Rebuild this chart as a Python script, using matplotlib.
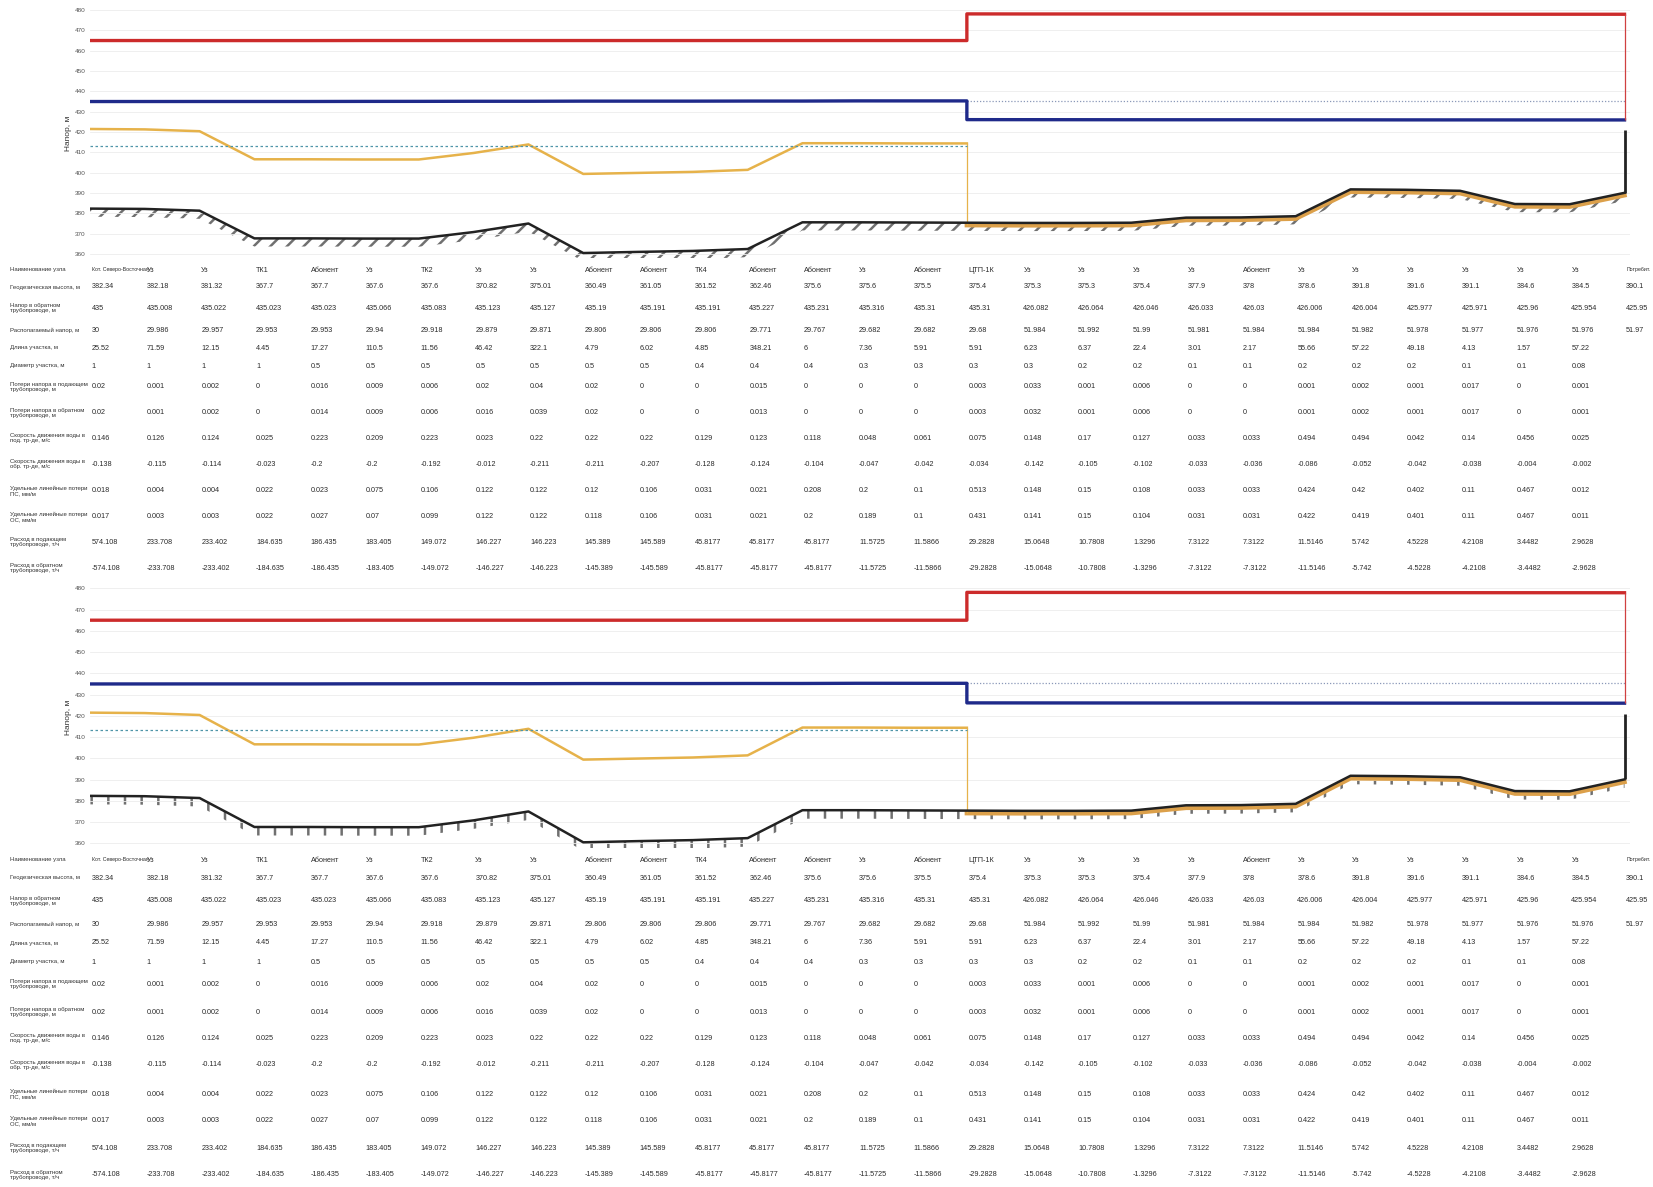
import matplotlib
matplotlib.use('Agg')
import matplotlib.pyplot as plt
import matplotlib.transforms as mtransforms

plt.rcParams['font.family'] = ['Liberation Sans', 'DejaVu Sans']
plt.rcParams['hatch.linewidth'] = 1.8

W, H = 1653, 1187

# ---------------- data ----------------
nodes = ["Кот. Северо-Восточная", "Уз", "Уз", "ТК1", "Абонент", "Уз", "ТК2", "Уз", "Уз",
         "Абонент", "Абонент", "ТК4", "Абонент", "Абонент", "Уз", "Абонент", "ЦТП-1К",
         "Уз", "Уз", "Уз", "Уз", "Абонент", "Уз", "Уз", "Уз", "Уз", "Уз", "Уз", "Потребит."]

# geodetic height of nodes, m
geo = [382.34, 382.18, 381.32, 367.7, 367.7, 367.6, 367.6, 370.82, 375.01, 360.49,
       361.05, 361.52, 362.46, 375.6, 375.6, 375.5, 375.4, 375.3, 375.3, 375.4,
       377.9, 378.0, 378.6, 391.8, 391.6, 391.1, 384.6, 384.5, 390.1]

# zone 1 (nodes 0..16, before ЦТП) and zone 2 (nodes 16..28)
zone1 = list(range(0, 17))
zone2 = list(range(16, 29))

ret1 = [435.0, 435.008, 435.022, 435.023, 435.023, 435.066, 435.083, 435.123, 435.127,
        435.19, 435.191, 435.191, 435.227, 435.231, 435.316, 435.31, 435.31]
disp1 = [30.0, 29.986, 29.957, 29.953, 29.953, 29.94, 29.918, 29.879, 29.871,
         29.806, 29.806, 29.806, 29.771, 29.767, 29.682, 29.682, 29.68]
ret2 = [426.1, 426.082, 426.064, 426.046, 426.033, 426.03, 426.006, 426.004,
        425.977, 425.971, 425.96, 425.954, 425.95]
disp2 = [52.0, 51.984, 51.992, 51.99, 51.981, 51.984, 51.984, 51.982,
         51.978, 51.977, 51.976, 51.976, 51.97]

# boiling line
boil1 = [421.5, 421.3, 420.4, 406.6, 406.6, 406.5, 406.5, 409.7, 413.9, 399.4,
         399.9, 400.4, 401.4, 414.5, 414.5, 414.4, 414.4]
boil2 = [374.2, 374.1, 374.1, 374.2, 376.7, 376.8, 377.4, 390.6, 390.4, 389.9,
         383.4, 383.3, 388.9]

static1 = 413.3
static2 = 435.4
bld_top = 421.0

length = [25.52, 71.59, 12.15, 4.45, 17.27, 110.5, 11.56, 46.42, 322.1, 4.79, 6.02,
          4.85, 348.21, 6, 7.36, 5.91, 5.91, 6.23, 6.37, 22.4, 3.01, 2.17, 55.66,
          57.22, 49.18, 4.13, 1.57, 57.22, None]
diam = [1, 1, 1, 1, 0.5, 0.5, 0.5, 0.5, 0.5, 0.5, 0.5, 0.4, 0.4, 0.4, 0.3, 0.3, 0.3,
        0.3, 0.2, 0.2, 0.1, 0.1, 0.2, 0.2, 0.2, 0.1, 0.1, 0.08, None]
loss_s = [0.02, 0.001, 0.002, 0, 0.016, 0.009, 0.006, 0.02, 0.04, 0.02, 0, 0, 0.015,
          0, 0, 0, 0.003, 0.033, 0.001, 0.006, 0, 0, 0.001, 0.002, 0.001, 0.017, 0,
          0.001, None]
loss_r = [0.02, 0.001, 0.002, 0, 0.014, 0.009, 0.006, 0.016, 0.039, 0.02, 0, 0, 0.013,
          0, 0, 0, 0.003, 0.032, 0.001, 0.006, 0, 0, 0.001, 0.002, 0.001, 0.017, 0,
          0.001, None]
vel_s = [0.146, 0.126, 0.124, 0.025, 0.223, 0.209, 0.223, 0.023, 0.22, 0.22, 0.22,
         0.129, 0.123, 0.118, 0.048, 0.061, 0.075, 0.148, 0.17, 0.127, 0.033, 0.033,
         0.494, 0.494, 0.042, 0.14, 0.456, 0.025, None]
vel_r = [-0.138, -0.115, -0.114, -0.023, -0.2, -0.2, -0.192, -0.012, -0.211, -0.211,
         -0.207, -0.128, -0.124, -0.104, -0.047, -0.042, -0.034, -0.142, -0.105,
         -0.102, -0.033, -0.036, -0.086, -0.052, -0.042, -0.038, -0.004, -0.002, None]
spec_s = [0.018, 0.004, 0.004, 0.022, 0.023, 0.075, 0.106, 0.122, 0.122, 0.12, 0.106,
          0.031, 0.021, 0.208, 0.2, 0.1, 0.513, 0.148, 0.15, 0.108, 0.033, 0.033,
          0.424, 0.42, 0.402, 0.11, 0.467, 0.012, None]
spec_r = [0.017, 0.003, 0.003, 0.022, 0.027, 0.07, 0.099, 0.122, 0.122, 0.118, 0.106,
          0.031, 0.021, 0.2, 0.189, 0.1, 0.431, 0.141, 0.15, 0.104, 0.031, 0.031,
          0.422, 0.419, 0.401, 0.11, 0.467, 0.011, None]
flow_s = [574.108, 233.708, 233.4022, 184.6347, 186.4347, 183.4047, 149.0722,
          146.2272, 146.2227, 145.3887, 145.5887, 45.8177, 45.8177, 45.8177, 11.5725,
          11.5866, 29.2828, 15.0648, 10.7808, 1.3296, 7.3122, 7.3122, 11.5146, 5.742,
          4.5228, 4.2108, 3.4482, 2.9628, None]
flow_r = [-574.108, -233.708, -233.4022, -184.6347, -186.4347, -183.4047, -149.0722,
          -146.2272, -146.2227, -145.3887, -145.5887, -45.8177, -45.8177, -45.8177,
          -11.5725, -11.5866, -29.2828, -15.0648, -10.7808, -1.3296, -7.3122, -7.3122,
          -11.5146, -5.742, -4.5228, -4.2108, -3.4482, -2.9628, None]

row_labels = ["Наименование узла", "Геодезическая высота, м",
              "Напор в обратном\nтрубопроводе, м", "Располагаемый напор, м",
              "Длина участка, м", "Диаметр участка, м",
              "Потери напора в подающем\nтрубопроводе, м",
              "Потери напора в обратном\nтрубопроводе, м",
              "Скорость движения воды в\nпод. тр-де, м/с",
              "Скорость движения воды в\nобр. тр-де, м/с",
              "Удельные линейные потери\nПС, мм/м", "Удельные линейные потери\nОС, мм/м",
              "Расход в подающем\nтрубопроводе, т/ч", "Расход в обратном\nтрубопроводе, т/ч"]

yticks = [360, 370, 380, 390, 400, 410, 420, 430, 440, 450, 460, 470, 480]


def fmt(v):
    if v is None:
        return ''
    return '%g' % v


# table columns; node 16 shows zone-1 values
ret_col = ret1 + ret2[1:]
disp_col = disp1 + disp2[1:]
table_rows = [nodes, [fmt(v) for v in geo], [fmt(v) for v in ret_col],
              [fmt(v) for v in disp_col]]
for r in (length, diam, loss_s, loss_r, vel_s, vel_r, spec_s, spec_r, flow_s, flow_r):
    table_rows.append([fmt(v) for v in r])

sup1 = [a + b for a, b in zip(ret1, disp1)]
sup2 = [a + b for a, b in zip(ret2, disp2)]

fig = plt.figure(figsize=(W / 100, H / 100), dpi=100)
ov = fig.add_axes([0, 0, 1, 1])
ov.set_xlim(0, W)
ov.set_ylim(H, 0)
ov.axis('off')


def draw_panel(top_px, bot_px, row_y, hatch):
    ax = fig.add_axes([90 / W, 1 - bot_px / H, 1540 / W, (bot_px - top_px) / H])
    ax.set_zorder(2)
    ax.patch.set_alpha(0)
    ax.set_xlim(0, 28.1)
    ax.set_ylim(358, 481)
    for s in ax.spines.values():
        s.set_visible(False)
    ax.set_yticks(yticks)
    ax.set_yticklabels([str(t) for t in yticks], fontsize=4.6, color='#555')
    ax.tick_params(length=0, pad=3)
    ax.set_xticks([])
    ax.grid(axis='y', color='#ededed', lw=0.6)
    ax.set_ylabel('Напор, м', fontsize=6, color='#333')
    ax.yaxis.set_label_coords(-0.012, 0.5)

    x = list(range(len(geo)))
    low = [g - 4 for g in geo]
    ax.fill_between(x, low, geo, facecolor='none', edgecolor='#707070', hatch=hatch,
                    lw=0, zorder=1)

    # supply / return heads
    ax.plot(zone1 + zone2, sup1 + sup2, color='#cc2b2b', lw=2.4, zorder=4)
    ax.plot(zone1 + zone2, ret1 + ret2, color='#1f2a8a', lw=2.4, zorder=4)
    ax.vlines(zone2[-1], ret2[-1], sup2[-1], color='#d04040', lw=0.9, zorder=4)

    # boiling line
    ax.plot(zone1, boil1, color='#e6b24a', lw=1.8, zorder=3)
    ax.vlines(zone1[-1], boil2[0], boil1[-1], color='#e6b24a', lw=0.9, zorder=3)
    ax.plot(zone2, boil2, color='#dca04a', lw=3.2, zorder=2)

    # static heads
    ax.hlines(static1, zone1[0], zone1[-1], color='#4f95a8', lw=0.9,
              linestyles=(0, (2, 2)), zorder=3)
    ax.hlines(static2, zone2[0], zone2[-1], color='#8a98b8', lw=0.9,
              linestyles=(0, (1, 1.5)), zorder=3)

    # ground
    ax.plot(x, geo, color='#222222', lw=1.8, zorder=5)
    ax.vlines(x[-1], geo[-1], bld_top, color='#222222', lw=2, zorder=5)

    # table under the chart
    trans = mtransforms.blended_transform_factory(ax.transData, ov.transData)
    n = len(nodes)
    for i, lab in enumerate(row_labels):
        ov.text(10, row_y[i], lab, fontsize=4.3, va='center', ha='left',
                color='#333', linespacing=1.0)
        for k, s in enumerate(table_rows[i]):
            if s:
                fs = 3.8 if (i == 0 and k in (0, n - 1)) else 5.2
                ov.text(k + 0.03, row_y[i], s, fontsize=fs, va='center', ha='left',
                        color='#2a2a2a', transform=trans)
    return ax


rows1 = [270, 287, 308, 330, 348, 366, 387, 413, 438, 464, 491, 517, 542, 568]
rows2 = [860, 878, 901, 924, 943, 962, 984, 1012, 1038, 1065, 1094, 1121, 1148, 1175]

draw_panel(8.0, 258.1, rows1, '//')
draw_panel(586.2, 847.6, rows2, '|')

fig.savefig('out.png', dpi=100, facecolor='white')
